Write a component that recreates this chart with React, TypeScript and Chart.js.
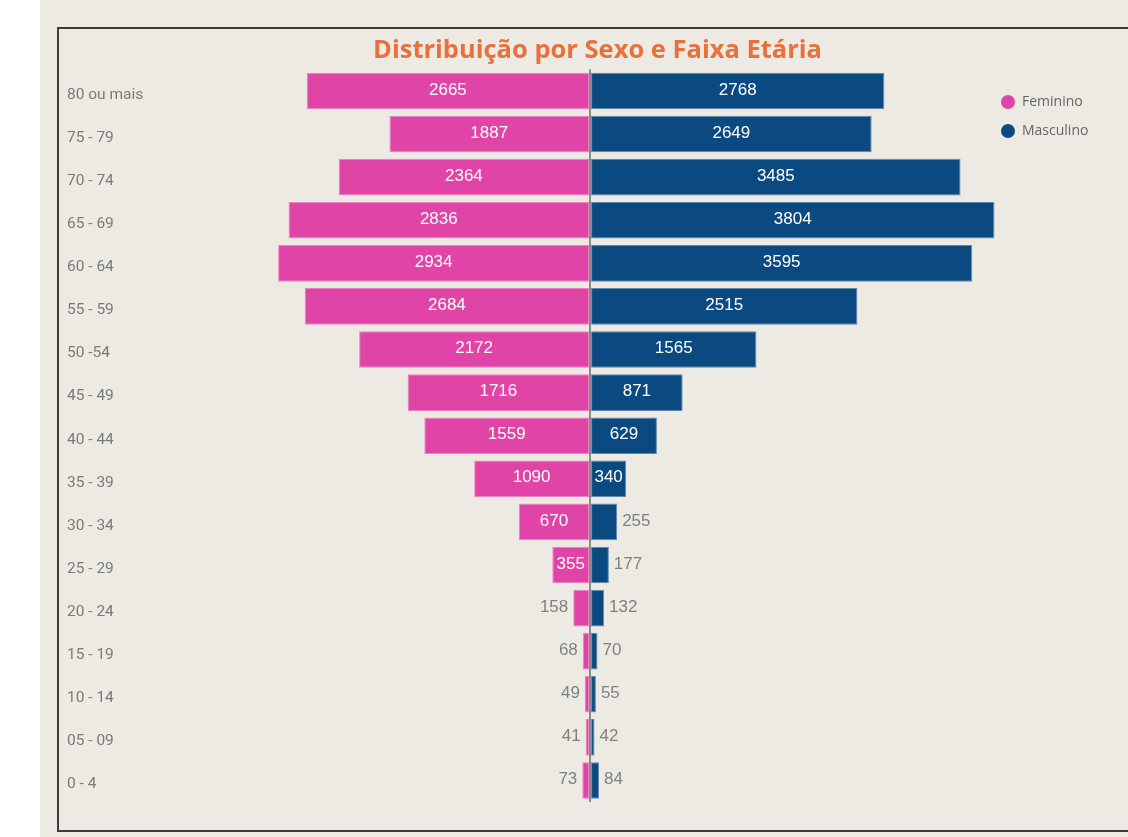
import React, { useEffect, useRef } from "react";
import { Chart, registerables } from "chart.js";

Chart.register(...registerables);

const categories = [
  "80 ou mais", "75 - 79", "70 - 74", "65 - 69", "60 - 64", "55 - 59", "50 -54",
  "45 - 49", "40 - 44", "35 - 39", "30 - 34", "25 - 29", "20 - 24", "15 - 19",
  "10 - 14", "05 - 09", "0 - 4",
];
const feminino = [2665, 1887, 2364, 2836, 2934, 2684, 2172, 1716, 1559, 1090, 670, 355, 158, 68, 49, 41, 73];
const masculino = [2768, 2649, 3485, 3804, 3595, 2515, 1565, 871, 629, 340, 255, 177, 132, 70, 55, 42, 84];

const PINK = "#E044A7";
const BLUE = "#0B4A80";

const valueLabels = {
  id: "valueLabels",
  afterDatasetsDraw(chart: any) {
    const ctx = chart.ctx;
    ctx.save();
    ctx.font = "17px 'Liberation Sans', Arial, sans-serif";
    ctx.textBaseline = "middle";
    chart.data.datasets.forEach((ds: any, di: number) => {
      const meta = chart.getDatasetMeta(di);
      meta.data.forEach((bar: any, i: number) => {
        const v = Math.abs(ds.data[i]);
        const text = String(v);
        const w = ctx.measureText(text).width;
        const barW = Math.abs(bar.x - bar.base);
        const y = bar.y - 1;
        if (w + 6 <= barW) {
          ctx.fillStyle = "#FFFFFF";
          ctx.textAlign = "center";
          ctx.fillText(text, (bar.x + bar.base) / 2, y);
        } else {
          ctx.fillStyle = "#808080";
          if (bar.x < bar.base) {
            ctx.textAlign = "right";
            ctx.fillText(text, bar.x - 5, y);
          } else {
            ctx.textAlign = "left";
            ctx.fillText(text, bar.x + 5, y);
          }
        }
      });
    });
    ctx.restore();
  },
};

const customLegend = {
  id: "customLegend",
  afterDraw(chart: any) {
    const ctx = chart.ctx;
    ctx.save();
    ctx.font = "14px 'Open Sans', 'Noto Sans', sans-serif";
    ctx.textBaseline = "middle";
    ctx.textAlign = "left";
    chart.data.datasets.forEach((ds: any, i: number) => {
      const cx = 949;
      const cy = 73 + i * 29;
      ctx.beginPath();
      ctx.arc(cx, cy, 7, 0, Math.PI * 2);
      ctx.fillStyle = ds.backgroundColor;
      ctx.fill();
      ctx.fillStyle = "#666666";
      ctx.fillText(ds.label, cx + 14, cy);
    });
    ctx.restore();
  },
};

export default function App() {
  const ref = useRef<HTMLCanvasElement | null>(null);

  useEffect(() => {
    if (!ref.current) return;
    const chart = new Chart(ref.current, {
      type: "bar",
      data: {
        labels: categories,
        datasets: [
          {
            label: "Feminino",
            data: feminino.map((v) => -v),
            backgroundColor: PINK,
            borderColor: "#EB82C4",
            borderWidth: 1,
            borderSkipped: false,
            categoryPercentage: 1,
            barPercentage: 0.85,
          },
          {
            label: "Masculino",
            data: masculino,
            backgroundColor: BLUE,
            borderColor: "#5F88B0",
            borderWidth: 1,
            borderSkipped: false,
            categoryPercentage: 1,
            barPercentage: 0.85,
          },
        ],
      },
      options: {
        indexAxis: "y",
        responsive: false,
        animation: false,
        layout: { padding: { left: 8, right: 0, top: 0, bottom: 27 } },
        plugins: {
          legend: { display: false },
          tooltip: { enabled: false },
          title: {
            display: true,
            text: "Distribuição por Sexo e Faixa Etária",
            color: "#E8703A",
            font: { family: "'Open Sans', 'Noto Sans', sans-serif", size: 25.5, weight: "bold" },
            lineHeight: 1.2,
            padding: { top: 6, bottom: 3.8 },
          },
        },
        scales: {
          x: {
            stacked: true,
            min: -4000,
            max: 5060,
            border: { display: false },
            ticks: { display: false },
            grid: {
              drawTicks: false,
              z: 1,
              lineWidth: 2,
              color: (c: any) => (c.tick && c.tick.value === 0 ? "#8A8A8A" : "rgba(0,0,0,0)"),
            },
          },
          y: {
            stacked: true,
            border: { display: false },
            grid: { display: false },
            ticks: {
              color: "#7A7A7A",
              font: { family: "Roboto, sans-serif", size: 15.5 },
              crossAlign: "far",
              labelOffset: 4,
            },
            afterFit: (scale: any) => {
              scale.width = 97.8;
            },
          },
        },
      },
      plugins: [valueLabels, customLegend],
    } as any);
    return () => chart.destroy();
  }, []);

  return (
    <div style={{ position: "fixed", inset: 0, background: "#FFFFFF" }}>
      <div style={{ position: "absolute", left: 40, top: 0, right: 0, bottom: 0, background: "#EDEAE4" }} />
      <div
        style={{
          position: "absolute",
          left: 57,
          top: 27,
          width: 1100,
          height: 805,
          border: "2px solid #3C3C3C",
          boxSizing: "border-box",
        }}
      />
      <canvas
        ref={ref}
        width={1069}
        height={800}
        style={{ position: "absolute", left: 59, top: 29, width: 1069, height: 800 }}
      />
    </div>
  );
}
